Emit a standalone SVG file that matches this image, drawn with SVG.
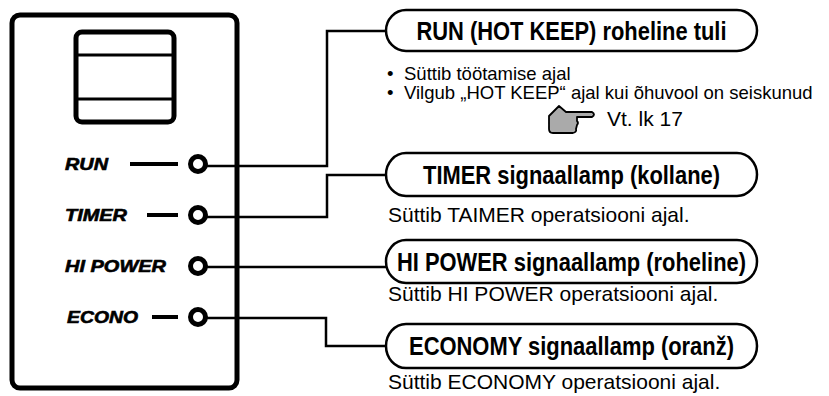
<svg xmlns="http://www.w3.org/2000/svg" width="829" height="396" viewBox="0 0 829 396">
<style>
.thick{fill:none;stroke:#000;stroke-width:5;stroke-linejoin:round}
.led{fill:#fff;stroke:#000;stroke-width:5}
.dash{stroke:#000;stroke-width:4}
.conn{fill:none;stroke:#000;stroke-width:2.5}
.pill{fill:#fff;stroke:#000;stroke-width:2.5}
.lbl{font-family:"Liberation Sans",Arial,sans-serif;font-weight:bold;font-style:italic;font-size:17px;fill:#000;stroke:#000;stroke-width:0.6}
.ttl{font-family:"Liberation Sans Narrow","Liberation Sans",Arial,sans-serif;font-weight:bold;font-size:26.5px;fill:#000;text-anchor:middle}
.sub{font-family:"Liberation Sans",Arial,sans-serif;font-size:21px;fill:#000}
.bul{font-family:"Liberation Sans",Arial,sans-serif;font-size:18.5px;fill:#000}
</style>
<rect width="829" height="396" fill="#fff"/>
<g id="panel">
<rect class="thick" x="12" y="15" width="225" height="373" rx="8"/>
<rect class="thick" x="76" y="32" width="98" height="90" rx="6" stroke-width="4"/>
<line x1="78" y1="55" x2="172" y2="55" stroke="#000" stroke-width="3"/>
<line x1="78" y1="99" x2="172" y2="99" stroke="#000" stroke-width="3"/>
</g>
<g id="connectors">
<path class="conn" d="M205 166 H327 V31 H388"/>
<path class="conn" d="M205 217 H327 V175 H388"/>
<path class="conn" d="M205 267 H388"/>
<path class="conn" d="M205 318 H326 V346 H388"/>
</g>
<g id="led-run">
<text class="lbl" x="65" y="170" textLength="43" lengthAdjust="spacingAndGlyphs">RUN</text>
<line class="dash" x1="130" y1="164" x2="178" y2="164"/>
<circle class="led" cx="198" cy="164" r="7.5"/>
</g>
<g id="led-timer">
<text class="lbl" x="65" y="221" textLength="62" lengthAdjust="spacingAndGlyphs">TIMER</text>
<line class="dash" x1="147" y1="215" x2="178" y2="215"/>
<circle class="led" cx="198" cy="215" r="7.5"/>
</g>
<g id="led-hipower">
<text class="lbl" x="65" y="272" textLength="101" lengthAdjust="spacingAndGlyphs">HI POWER</text>
<circle class="led" cx="198" cy="266" r="7.5"/>
</g>
<g id="led-econo">
<text class="lbl" x="67" y="323" textLength="71" lengthAdjust="spacingAndGlyphs">ECONO</text>
<line class="dash" x1="152" y1="317" x2="178" y2="317"/>
<circle class="led" cx="198" cy="317" r="7.5"/>
</g>
<g id="callout-run">
<rect class="pill" x="386" y="10" width="371" height="41" rx="20" ry="20.5"/>
<text class="ttl" x="571.5" y="40" textLength="310" lengthAdjust="spacingAndGlyphs">RUN (HOT KEEP) roheline tuli</text>
<text class="bul" x="387" y="80">•</text>
<text class="bul" x="404" y="80">Süttib töötamise ajal</text>
<text class="bul" x="387" y="99">•</text>
<text class="bul" x="404" y="99">Vilgub „HOT KEEP“ ajal kui õhuvool on seiskunud</text>
<path d="M549 116 L559 106 L566 112 L592 112 Q596 114.5 592 117 L577 117 L577 121 Q579 123 577 125 L576 129 Q577 132 573 133 L553 133 Q549 133 549 129 Z" fill="#aaa" stroke="#000" stroke-width="1.8" stroke-linejoin="round"/>
<text class="sub" x="607" y="126" font-size="20">Vt. lk 17</text>
</g>
<g id="callout-timer">
<rect class="pill" x="386" y="153" width="371" height="43" rx="20" ry="21.5"/>
<text class="ttl" x="571.5" y="183.5" textLength="297" lengthAdjust="spacingAndGlyphs">TIMER signaallamp (kollane)</text>
<text class="sub" x="388" y="222">Süttib TAIMER operatsiooni ajal.</text>
</g>
<g id="callout-hipower">
<rect class="pill" x="386" y="240" width="371" height="43" rx="20" ry="21.5"/>
<text class="ttl" x="571.5" y="271" textLength="349" lengthAdjust="spacingAndGlyphs">HI POWER signaallamp (roheline)</text>
<text class="sub" x="388" y="301">Süttib HI POWER operatsiooni ajal.</text>
</g>
<g id="callout-econo">
<rect class="pill" x="386" y="324" width="371" height="44" rx="20" ry="22"/>
<text class="ttl" x="571.5" y="355" textLength="325" lengthAdjust="spacingAndGlyphs">ECONOMY signaallamp (oranž)</text>
<text class="sub" x="388" y="389">Süttib ECONOMY operatsiooni ajal.</text>
</g>
</svg>
